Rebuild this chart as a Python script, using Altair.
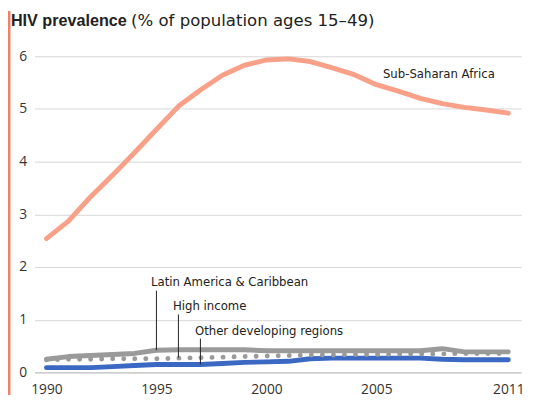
import altair as alt
import pandas as pd

years = [1990, 1991, 1992, 1993, 1994, 1995, 1996, 1997, 1998, 1999, 2000,
         2001, 2002, 2003, 2004, 2005, 2006, 2007, 2008, 2009, 2010, 2011]
sub_saharan = [2.54, 2.87, 3.33, 3.74, 4.17, 4.61, 5.05, 5.36, 5.64, 5.83, 5.93,
               5.95, 5.90, 5.78, 5.65, 5.46, 5.34, 5.20, 5.10, 5.03, 4.98, 4.92]
latin_america = [0.25, 0.30, 0.32, 0.34, 0.36, 0.42, 0.43, 0.43, 0.43, 0.43, 0.41,
                 0.41, 0.41, 0.41, 0.41, 0.41, 0.41, 0.41, 0.45, 0.39, 0.39, 0.39]
high_income = [0.24, 0.25, 0.25, 0.26, 0.26, 0.26, 0.27, 0.28, 0.29, 0.30, 0.31,
               0.32, 0.33, 0.33, 0.34, 0.34, 0.35, 0.35, 0.35, 0.36, 0.36, 0.36]
other_developing = [0.09, 0.09, 0.09, 0.11, 0.13, 0.15, 0.15, 0.15, 0.17, 0.19, 0.20,
                    0.21, 0.26, 0.27, 0.27, 0.27, 0.27, 0.27, 0.25, 0.24, 0.24, 0.24]

x_ticks = [1990, 1995, 2000, 2005, 2011]
y_ticks = [0, 1, 2, 3, 4, 5, 6]

# annotations
label_text = ["Latin America & Caribbean", "High income", "Other developing regions"]
label_year = [1995, 1996, 1997]
label_top = [1.72, 1.25, 0.79]
leader_from = [0.42, 0.28, 0.15]
leader_to = [1.55, 1.10, 0.64]

ssa_label = ["Sub-Saharan Africa"]
ssa_label_year = [2005.3]
ssa_label_value = [5.66]

title_bold = "HIV prevalence"
title_rest = "(% of population ages 15–49)"

NARROW = "DejaVu Sans Condensed, Liberation Sans Narrow, Roboto, sans-serif"

df = pd.DataFrame({
    "year": years,
    "ssa": sub_saharan,
    "lac": latin_america,
    "hi": high_income,
    "oth": other_developing,
})
ann = pd.DataFrame({"text": label_text, "year": label_year, "ty": label_top,
                    "y0": leader_from, "y1": leader_to})
ssa_df = pd.DataFrame({"text": ssa_label, "year": ssa_label_year, "v": ssa_label_value})

xscale = alt.Scale(domain=[1989.46, 2011.58], nice=False, zero=False)
yscale = alt.Scale(domain=[0, 6], nice=False)

xaxis = alt.Axis(values=x_ticks, format="d", title=None, grid=False, ticks=False,
                 domainColor="#bdbdbd", labelFontSize=14, labelColor="#333333",
                 labelFont="Open Sans", labelPadding=10, labelFlush=False)
yaxis = alt.Axis(values=y_ticks, format="d", title=None, grid=True, gridColor="#d6d6d6",
                 domain=False, ticks=False, labelFontSize=14, labelColor="#333333",
                 labelFont="Open Sans", labelPadding=8)

base = alt.Chart(df)

def series(col, color, dash=None, width=5):
    kw = dict(color=color, strokeWidth=width, strokeCap="round", strokeJoin="round")
    if dash is not None:
        kw["strokeDash"] = dash
    return base.mark_line(**kw).encode(
        x=alt.X("year:Q", scale=xscale, axis=xaxis),
        y=alt.Y(f"{col}:Q", scale=yscale, axis=yaxis),
    )

ssa_line = series("ssa", "#f9a088")
lac_line = series("lac", "#9a9a9a")
oth_line = series("oth", "#3a68c2")
hi_line = series("hi", "#9a9a9a", dash=[0.01, 11.2], width=5)

leaders = alt.Chart(ann).mark_rule(color="#222222", strokeWidth=1).encode(
    x=alt.X("year:Q", scale=xscale),
    y=alt.Y("y0:Q", scale=yscale),
    y2="y1:Q",
)
ann_text = alt.Chart(ann).mark_text(align="left", baseline="middle", dx=-5.5,
                                    font=NARROW, fontSize=13.2,
                                    color="#222222").encode(
    x=alt.X("year:Q", scale=xscale),
    y=alt.Y("ty:Q", scale=yscale),
    text="text:N",
)
ssa_text = alt.Chart(ssa_df).mark_text(align="left", baseline="middle",
                                       font=NARROW, fontSize=13.2,
                                       color="#222222").encode(
    x=alt.X("year:Q", scale=xscale),
    y=alt.Y("v:Q", scale=yscale),
    text="text:N",
)

title1 = alt.Chart(pd.DataFrame({"t": [title_bold]})).mark_text(
    align="left", baseline="middle", font="Liberation Sans, Open Sans", fontSize=16.4,
    fontWeight="bold", color="#222222").encode(x=alt.value(-24), y=alt.value(-36), text="t:N")
title2 = alt.Chart(pd.DataFrame({"t": [title_rest]})).mark_text(
    align="left", baseline="middle", font="DejaVu Sans", fontSize=16.8,
    color="#222222").encode(x=alt.value(98), y=alt.value(-36), text="t:N")

side_bar = alt.Chart(pd.DataFrame({"a": [0]})).mark_rect(color="#f08068").encode(
    x=alt.value(-27), x2=alt.value(-24.5), y=alt.value(-46), y2=alt.value(344))

chart = alt.layer(
    side_bar, ssa_line, lac_line, oth_line, hi_line, leaders, ann_text, ssa_text,
    title1, title2,
).properties(
    width=494, height=321,
    autosize=alt.AutoSizeParams(type="none"),
    padding={"left": 27, "top": 46, "right": 4, "bottom": 24},
).configure_view(stroke=None)

chart.save("out.html", embed_options={"renderer": "svg", "actions": False})
